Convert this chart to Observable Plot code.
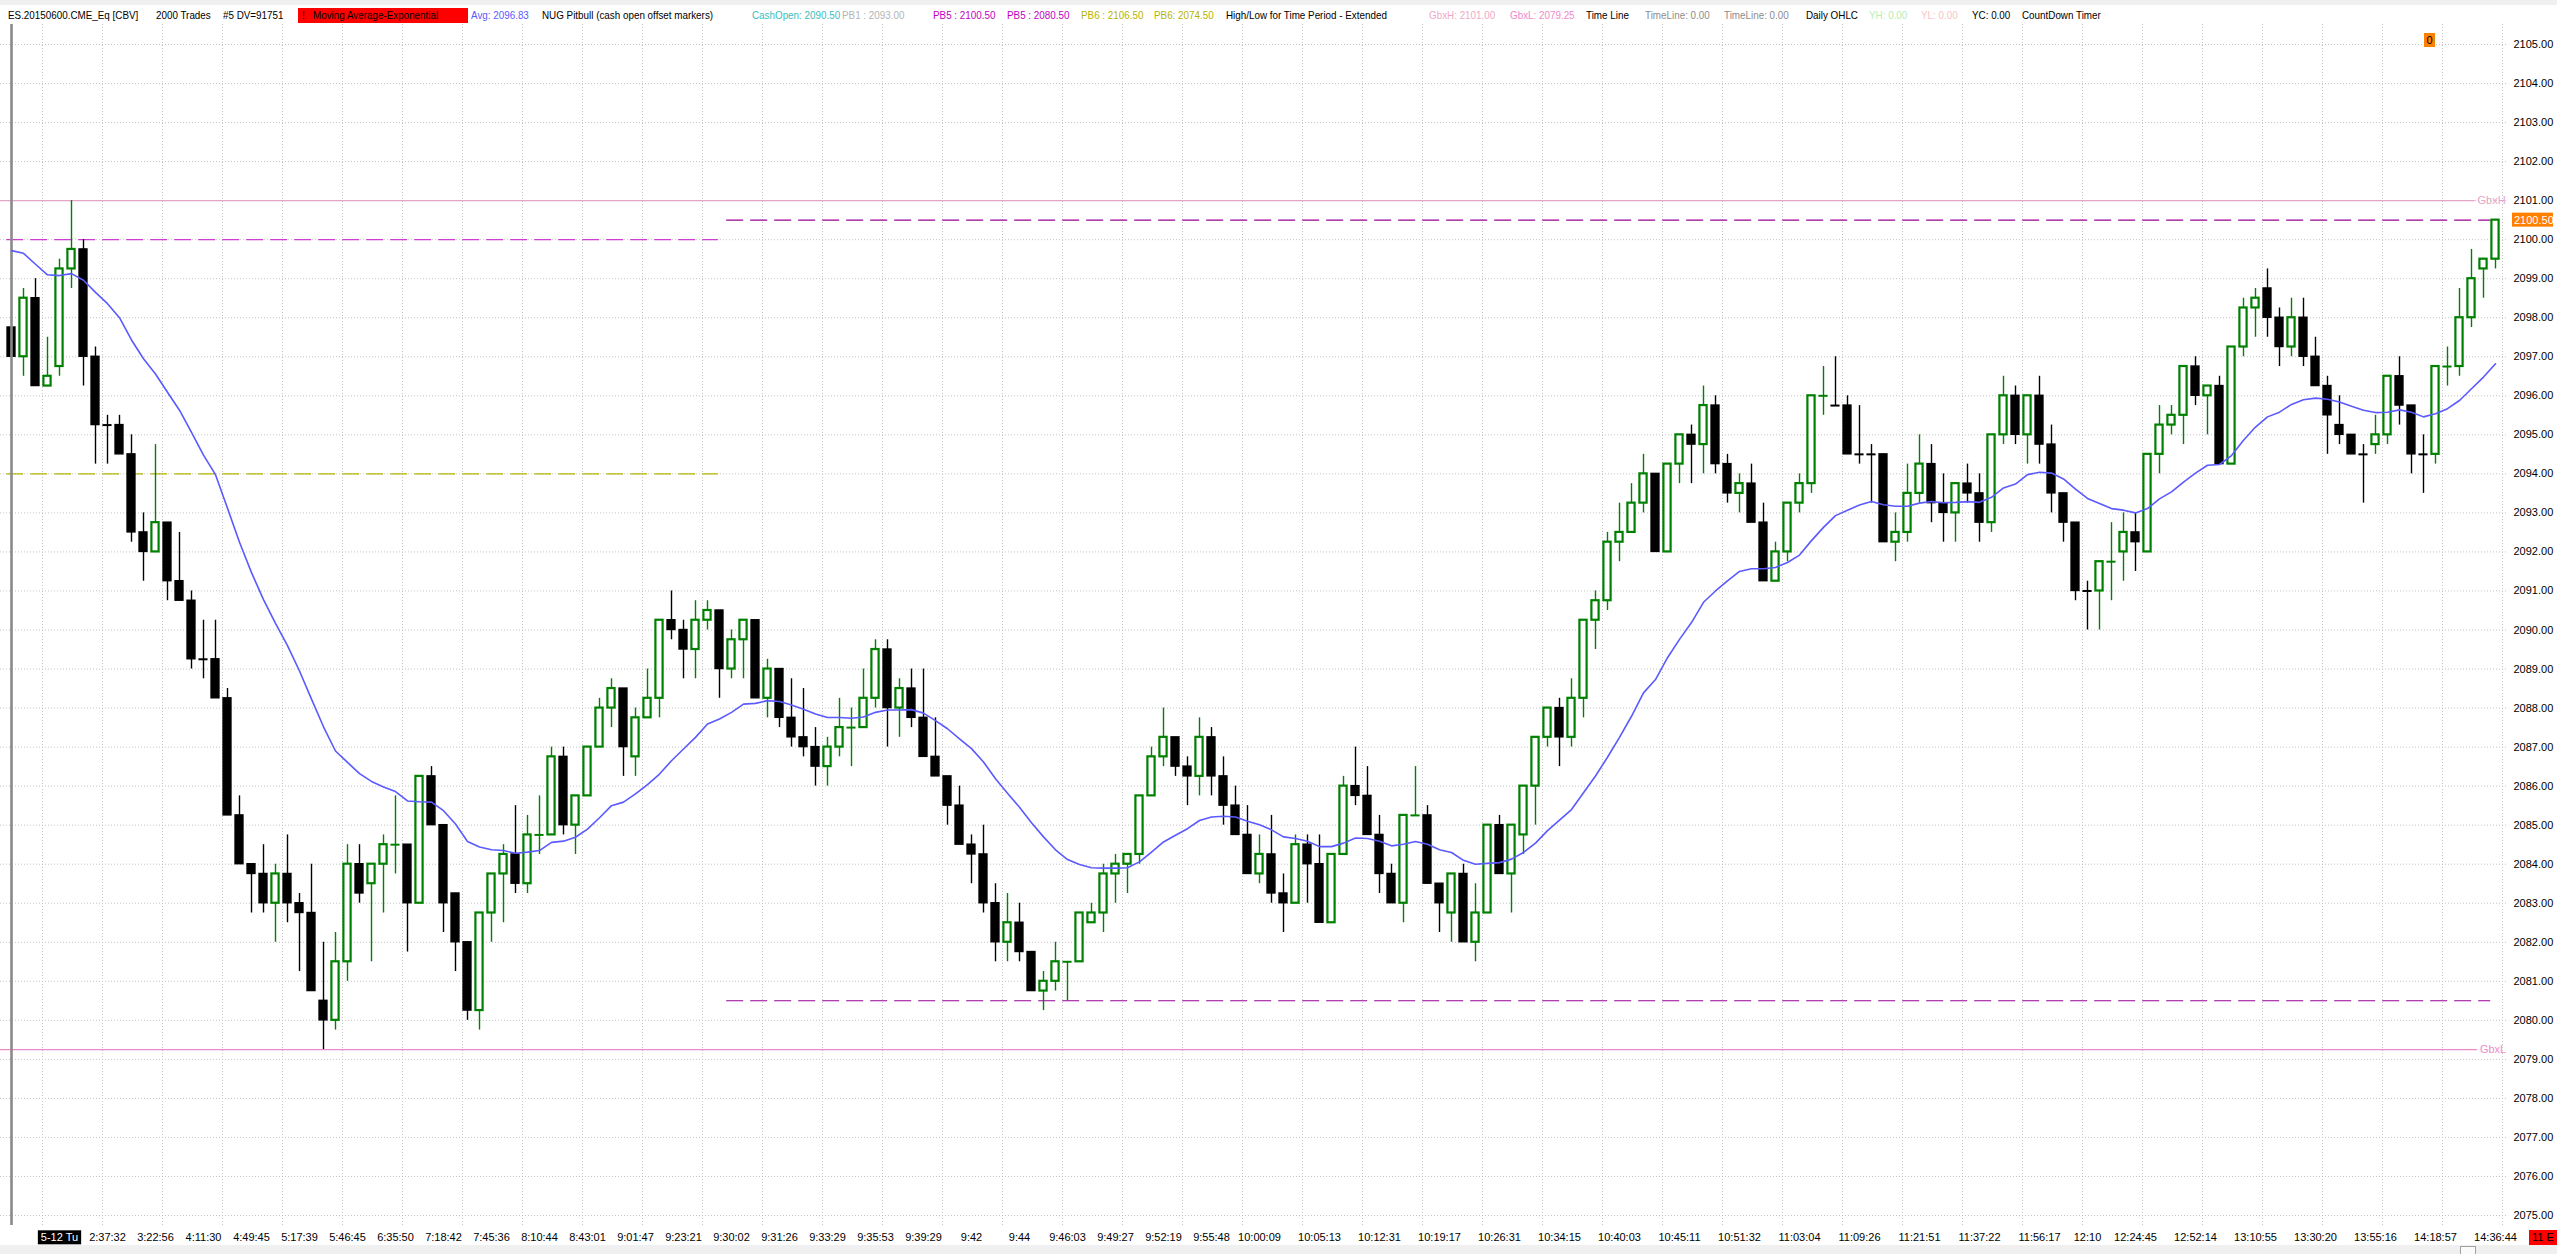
<!DOCTYPE html>
<html>
<head>
<meta charset="utf-8">
<script src="https://cdn.jsdelivr.net/npm/d3@7"></script>
<script src="https://cdn.jsdelivr.net/npm/@observablehq/plot@0.6"></script>
<style>
  body { margin: 0; background: #fff; font-family: "Liberation Sans", Arial, sans-serif; }
  #wrap { position: relative; width: 2557px; height: 1254px; overflow: hidden; background: #fff; }
  .h { position: absolute; top: 9px; font-size: 11px; line-height: 13px; white-space: nowrap;
       transform: scaleX(0.895); transform-origin: 0 0; }
  .box { position: absolute; font-size: 11px; line-height: 14px; white-space: nowrap; }
</style>
</head>
<body>
<div id="wrap">
  <div style="position:absolute;left:0;top:0;width:2557px;height:5px;background:#f0f0f0"></div>
  <div style="position:absolute;left:298px;top:8px;width:170px;height:15px;background:#ff0000"></div>
  <div id="header"></div>
  <div id="chart" style="position:absolute;left:0;top:24px"></div>
  <div class="box" style="left:2424px;top:33px;width:11px;height:14px;background:#ff8000;text-align:center">0</div>
  <div class="box" style="left:2529px;top:1230px;width:30px;height:15px;background:#ff0000;padding-left:3px">11 E</div>
  <div style="position:absolute;left:0;top:1245px;width:2557px;height:9px;background:#f0f0f0"></div>
  <div style="position:absolute;left:2460px;top:1246px;width:14px;height:8px;border:1px solid #a0a0a0;background:#fafafa"></div>
</div>
<script>
// ES 2000-trade bars, one value per bar (bar 0 .. 207)
const opens = [
  2097.75,2097,2098.5,2096.25,2096.75,2099.25,2099.75,2097,2095.25,2095.25,
  2094.5,2092.5,2092,2092.75,2091.25,2090.75,2089.25,2089.25,2088.25,2085.25,
  2084,2083.75,2083,2083.75,2083,2082.75,2080.5,2080,2081.5,2084,
  2083.5,2084,2084.5,2084.5,2083,2086.25,2085,2083.25,2082,2080.25,
  2082.75,2083.75,2084.25,2083.5,2084.75,2084.75,2086.75,2085,2085.75,2087,
  2088,2088.5,2086.75,2087.75,2088.25,2090.25,2090,2089.5,2090.25,2090.5,
  2089,2089.75,2090.25,2088.25,2089,2087.75,2087.25,2087,2086.5,2087,
  2087.5,2087.5,2088.25,2089.5,2088,2088.5,2087.75,2086.75,2086.25,2085.5,
  2084.5,2084.25,2083,2082,2082.5,2081.75,2080.75,2081,2081.5,2081.5,
  2082.5,2082.75,2083.75,2084,2084.25,2085.75,2086.75,2087.25,2086.5,2086.25,
  2087.25,2086.25,2085.5,2084.75,2083.75,2084.25,2083.25,2083,2084.5,2084,
  2082.5,2084.25,2086,2085.75,2084.75,2083.75,2083,2085.25,2085.25,2083.5,
  2082.75,2083.75,2082,2082.75,2085,2083.75,2084.75,2086,2087.25,2088,
  2087.25,2088.25,2090.25,2090.75,2092.25,2092.5,2093.25,2094,2092,2094.25,
  2095,2094.75,2095.75,2094.25,2093.5,2093.75,2092.75,2091.25,2092,2093.25,
  2093.75,2096,2095.75,2095.75,2094.5,2094.5,2094.5,2092.25,2092.5,2093.5,
  2094.25,2093.25,2093,2093.75,2093.5,2092.75,2095,2096,2095,2096,
  2094.75,2093.5,2092.75,2091,2091,2091.75,2092,2092.5,2092,2094.5,
  2095.25,2095.5,2096.75,2096,2096.25,2094.25,2097.25,2098.25,2098.75,2098,
  2097.25,2098,2097,2096.25,2095.25,2095,2094.5,2094.75,2095,2096.5,
  2095.75,2094.5,2094.5,2096.75,2096.75,2098,2099.25,2099.5
];
const highs = [
  2097.75,2098.75,2099,2097.5,2099.5,2101,2100,2097.25,2095.5,2095.5,
  2095,2093,2094.75,2092.75,2092.5,2091,2090.25,2090.25,2088.5,2085.75,
  2084,2084.5,2084,2084.75,2083.25,2084,2082,2082.25,2084.5,2084.5,
  2084,2084.75,2085.75,2084.5,2086.25,2086.5,2085,2083.25,2082,2082.75,
  2083.75,2084.5,2085.5,2085.25,2085.75,2087,2087,2085.75,2087,2088.25,
  2088.75,2088.5,2088,2089,2090.25,2091,2090.25,2090.75,2090.75,2090.5,
  2090,2090.25,2090.25,2089.25,2089,2088.75,2088.5,2087.5,2087.25,2088.25,
  2088,2089,2089.75,2089.75,2088.75,2089,2089,2087.75,2086.25,2086,
  2084.75,2085,2083.5,2083.25,2083,2081.75,2081.25,2082,2081.5,2082.75,
  2083,2084,2084.25,2084.25,2085.75,2087,2088,2087.25,2086.75,2087.75,
  2087.5,2086.75,2086,2085.5,2084.75,2085.25,2083.75,2084.75,2084.75,2084.75,
  2084.25,2086.25,2087,2086.5,2085.25,2084,2085.25,2086.5,2085.5,2083.5,
  2083.75,2084,2083.5,2085,2085.25,2085,2086,2087.25,2088,2088.25,
  2088.75,2090.25,2091,2092.5,2093.25,2093.75,2094.5,2094,2094.25,2095,
  2095.25,2096.25,2096,2094.5,2094,2094.25,2093.25,2092.25,2093.25,2094,
  2096,2096.75,2097,2096,2095.75,2094.75,2094.5,2093,2094.25,2095,
  2094.75,2094,2093.75,2094.25,2094,2095,2096.5,2096.25,2096,2096.5,
  2095.25,2093.5,2092.75,2091.25,2091.75,2092.75,2093,2093,2094.5,2095.75,
  2095.75,2096.75,2097,2096.25,2096.5,2097.25,2098.5,2098.75,2099.25,2098.25,
  2098.5,2098.5,2097.5,2096.5,2096,2095,2094.75,2095.5,2096.5,2097,
  2095.75,2095,2096.75,2097.25,2098.75,2099.75,2099.5,2100.5
];
const lows = [
  2097,2096.5,2096.25,2096.25,2096.5,2098.75,2096.25,2094.25,2094.25,2094.5,
  2092.25,2091.25,2092,2090.75,2090.75,2089,2088.75,2088.25,2085.25,2084,
  2082.75,2082.75,2082,2082.5,2081.25,2080.75,2079.25,2079.75,2081,2083,
  2081.5,2082.75,2083.75,2081.75,2083,2085,2082.25,2081.25,2080,2079.75,
  2082,2082.5,2083.25,2083.25,2084.25,2084.75,2084.75,2084.25,2085.75,2087,
  2087.5,2086.25,2086.25,2087.75,2087.75,2089.75,2088.75,2088.75,2090,2088.25,
  2088.75,2088.75,2088.25,2087.75,2087.5,2087,2086.75,2086,2086,2086.75,
  2086.5,2087.5,2088,2087,2087.25,2087.5,2086.75,2086.25,2085,2084.5,
  2083.5,2082.75,2081.5,2081.5,2081.5,2080.75,2080.25,2080.75,2080.5,2081.5,
  2082.5,2082.25,2083,2083.25,2084,2085.75,2086.5,2086.25,2085.5,2085.75,
  2085.75,2085,2084.75,2083.75,2083.5,2083,2082.25,2083,2083,2082.5,
  2082.5,2084.25,2085.5,2084.75,2083.25,2083,2082.5,2085.25,2083.5,2082.25,
  2082,2082,2081.5,2082.75,2083.75,2082.75,2084.25,2085,2087,2086.5,
  2087,2087.75,2089.5,2090.5,2091.75,2092.5,2093,2092,2092,2093.75,
  2093.75,2094,2094,2093.25,2093,2092.75,2091.25,2091.25,2091.75,2093,
  2093.5,2095.5,2095.75,2094.5,2094.25,2093.25,2092.25,2091.75,2092.25,2093.25,
  2092.75,2092.25,2092.25,2093.25,2092.25,2092.5,2094.75,2094.75,2094.25,2094.25,
  2093,2092.25,2090.75,2090,2090,2090.75,2091.25,2091.5,2092,2094,
  2095,2094.75,2095.75,2095,2094.25,2094.25,2097,2097.5,2097.5,2096.75,
  2097,2096.75,2096.25,2094.5,2094.75,2094.5,2093.25,2094.5,2094.75,2095.25,
  2094,2093.5,2094.25,2096.25,2096.5,2097.75,2098.5,2099.25
];
const closes = [
  2097,2098.5,2096.25,2096.5,2099.25,2099.75,2097,2095.25,2095.25,2094.5,
  2092.5,2092,2092.75,2091.25,2090.75,2089.25,2089.25,2088.25,2085.25,2084,
  2083.75,2083,2083.75,2083,2082.75,2080.75,2080,2081.5,2084,2083.25,
  2084,2084.5,2084.5,2083,2086.25,2085,2083,2082,2080.25,2082.75,
  2083.75,2084.25,2083.5,2084.75,2084.75,2086.75,2085,2085.75,2087,2088,
  2088.5,2087,2087.75,2088.25,2090.25,2090,2089.5,2090.25,2090.5,2089,
  2089.75,2090.25,2088.25,2089,2087.75,2087.25,2087,2086.5,2087,2087.5,
  2087.5,2088.25,2089.5,2088,2088.5,2087.75,2086.75,2086.25,2085.5,2084.5,
  2084.25,2083,2082,2082.5,2081.75,2080.75,2081,2081.5,2081.5,2082.75,
  2082.75,2083.75,2084,2084.25,2085.75,2086.75,2087.25,2086.5,2086.25,2087.25,
  2086.25,2085.5,2084.75,2083.75,2084.25,2083.25,2083,2084.5,2084,2082.5,
  2084.25,2086,2085.75,2084.75,2083.75,2083,2085.25,2085.25,2083.5,2083,
  2083.75,2082,2082.75,2085,2083.75,2085,2086,2087.25,2088,2087.25,
  2088.25,2090.25,2090.75,2092.25,2092.5,2093.25,2094,2092,2094.25,2095,
  2094.75,2095.75,2094.25,2093.5,2093.75,2092.75,2091.25,2092,2093.25,2093.75,
  2096,2096,2095.75,2094.5,2094.5,2094.5,2092.25,2092.5,2093.5,2094.25,
  2093.25,2093,2093.75,2093.5,2092.75,2095,2096,2095,2096,2094.75,
  2093.5,2092.75,2091,2091,2091.75,2091.75,2092.5,2092.25,2094.5,2095.25,
  2095.5,2096.75,2096,2096.25,2094.25,2097.25,2098.25,2098.5,2098,2097.25,
  2098,2097,2096.25,2095.5,2095,2094.5,2094.5,2095,2096.5,2095.75,
  2094.5,2094.5,2096.75,2096.75,2098,2099,2099.5,2100.5
];
// bars where open == close but the tick is drawn green
const greenDojiBars = [32, 44, 70, 88, 117, 151, 175, 203];

// exponential moving average
const emaValues = [
  2099.72,2099.65,2099.37,2099.10,2099.08,2099.13,2098.96,2098.65,2098.36,2098.00,
  2097.43,2096.95,2096.56,2096.09,2095.63,2095.06,2094.48,2093.98,2093.12,2092.25,
  2091.47,2090.78,2090.17,2089.60,2088.95,2088.23,2087.52,2086.90,2086.61,2086.32,
  2086.12,2085.98,2085.86,2085.62,2085.60,2085.59,2085.37,2085.03,2084.58,2084.44,
  2084.37,2084.35,2084.28,2084.31,2084.35,2084.56,2084.59,2084.69,2084.90,2085.19,
  2085.50,2085.59,2085.80,2086.04,2086.31,2086.65,2086.95,2087.25,2087.59,2087.72,
  2087.89,2088.10,2088.12,2088.19,2088.17,2088.08,2087.97,2087.85,2087.76,2087.76,
  2087.74,2087.77,2087.89,2087.95,2087.95,2087.96,2087.87,2087.68,2087.47,2087.21,
  2086.96,2086.62,2086.19,2085.82,2085.46,2085.06,2084.70,2084.37,2084.12,2083.99,
  2083.91,2083.90,2083.90,2083.91,2084.06,2084.31,2084.57,2084.74,2084.91,2085.12,
  2085.21,2085.23,2085.21,2085.10,2085.01,2084.88,2084.70,2084.66,2084.59,2084.45,
  2084.45,2084.54,2084.67,2084.66,2084.59,2084.47,2084.51,2084.58,2084.51,2084.37,
  2084.30,2084.10,2084.00,2084.02,2084.04,2084.13,2084.30,2084.54,2084.86,2085.13,
  2085.40,2085.83,2086.26,2086.74,2087.25,2087.79,2088.39,2088.73,2089.29,2089.76,
  2090.19,2090.71,2091.00,2091.26,2091.50,2091.57,2091.57,2091.60,2091.73,2091.92,
  2092.29,2092.63,2092.93,2093.07,2093.20,2093.29,2093.21,2093.17,2093.17,2093.25,
  2093.29,2093.26,2093.27,2093.29,2093.27,2093.40,2093.64,2093.74,2093.98,2094.04,
  2094.02,2093.87,2093.61,2093.37,2093.24,2093.11,2093.07,2093.00,2093.11,2093.36,
  2093.54,2093.79,2094.02,2094.22,2094.24,2094.47,2094.86,2095.20,2095.46,2095.58,
  2095.78,2095.90,2095.94,2095.91,2095.84,2095.73,2095.63,2095.57,2095.58,2095.64,
  2095.58,2095.46,2095.54,2095.67,2095.88,2096.18,2096.48,2096.82
];

// time axis labels and the bar each one sits under
const timeLabels = [
  "5-12 Tu","2:37:32","3:22:56","4:11:30","4:49:45","5:17:39","5:46:45","6:35:50","7:18:42","7:45:36",
  "8:10:44","8:43:01","9:01:47","9:23:21","9:30:02","9:31:26","9:33:29","9:35:53","9:39:29","9:42",
  "9:44","9:46:03","9:49:27","9:52:19","9:55:48","10:00:09","10:05:13","10:12:31","10:19:17","10:26:31",
  "10:34:15","10:40:03","10:45:11","10:51:32","11:03:04","11:09:26","11:21:51","11:37:22","11:56:17","12:10",
  "12:24:45","12:52:14","13:10:55","13:30:20","13:55:16","14:18:57","14:36:44"
];
const timeLabelBars = [
  4,8,12,16,20,24,28,32,36,40,44,48,52,56,60,64,68,72,76,80,84,88,92,96,100,104,
  109,114,119,124,129,134,139,144,149,154,159,164,169,173,177,182,187,192,197,202,207
];
const priceTicks = d3.range(2075, 2106);

// indicator levels
const gbxNames = ["GbxH", "GbxL"];
const gbxLevels = [2101.00, 2079.25];
const pb5Levels = [2100.50, 2080.50];
const priorLevels = [2100.00, 2094.00];
const lastPrice = 2100.50;

const headerItems = [
  {t: "ES.20150600.CME_Eq [CBV]", x: 8, c: "#000"},
  {t: "2000 Trades", x: 156, c: "#000"},
  {t: "#5 DV=91751", x: 223, c: "#000"},
  {t: "!", x: 302, c: "#000"},
  {t: "Moving Average-Exponential", x: 313, c: "#000"},
  {t: "Avg: 2096.83", x: 471, c: "#5a5aff"},
  {t: "NUG Pitbull (cash open offset markers)", x: 542, c: "#000"},
  {t: "CashOpen: 2090.50", x: 752, c: "#3cbcbc"},
  {t: "PB1 : 2093.00", x: 842, c: "#b4b4b4"},
  {t: "PB5 : 2100.50", x: 933, c: "#c000c0"},
  {t: "PB5 : 2080.50", x: 1007, c: "#c000c0"},
  {t: "PB6 : 2106.50", x: 1081, c: "#b4b400"},
  {t: "PB6: 2074.50", x: 1154, c: "#b4b400"},
  {t: "High/Low for Time Period - Extended", x: 1226, c: "#000"},
  {t: "GbxH: 2101.00", x: 1429, c: "#f0a8c8"},
  {t: "GbxL: 2079.25", x: 1510, c: "#f088c8"},
  {t: "Time Line", x: 1586, c: "#000"},
  {t: "TimeLine: 0.00", x: 1645, c: "#8c8c8c"},
  {t: "TimeLine: 0.00", x: 1724, c: "#8c8c8c"},
  {t: "Daily OHLC", x: 1806, c: "#000"},
  {t: "YH: 0.00", x: 1869, c: "#b8ecb8"},
  {t: "YL: 0.00", x: 1921, c: "#f8c4c4"},
  {t: "YC: 0.00", x: 1972, c: "#000"},
  {t: "CountDown Timer", x: 2022, c: "#000"}
];

const header = d3.select("#header");
headerItems.forEach(d => {
  header.append("div").attr("class", "h")
    .style("left", d.x + "px").style("color", d.c).text(d.t);
});

const green = "#008000";
const bars = opens.map((o, i) => ({
  i, o, h: highs[i], l: lows[i], c: closes[i],
  up: closes[i] > o || (closes[i] === o && greenDojiBars.includes(i))
}));
const upBars = bars.filter(d => d.up);
const downBars = bars.filter(d => !d.up);
const ema = emaValues.map((v, i) => ({i, v}));
const labelByBar = new Map(timeLabelBars.map((b, k) => [b, timeLabels[k]]));

const chart = Plot.plot({
  width: 2557,
  height: 1221,
  marginTop: 0,
  marginLeft: 0,
  marginRight: 50,
  marginBottom: 20,
  style: {fontSize: "11px", fontFamily: "'Liberation Sans', Arial, sans-serif", background: "#fff", color: "#000"},
  x: {type: "linear", domain: [0, 207], range: [11, 2495]},
  y: {domain: [2075, 2105], range: [1191, 20]},
  marks: [
    Plot.gridY(priceTicks, {stroke: "#c4c4c4", strokeOpacity: 1, strokeDasharray: "1,2"}),
    Plot.gridX(d3.range(2.583, 208, 5), {stroke: "#c4c4c4", strokeOpacity: 1, strokeDasharray: "1,2"}),
    // prior period levels, left part
    Plot.ruleY([priorLevels[0]], {x1: () => -0.4, x2: () => 58.9, stroke: "#d03cd0", strokeWidth: 1.4, strokeDasharray: "17,7"}),
    Plot.ruleY([priorLevels[1]], {x1: () => -0.4, x2: () => 58.9, stroke: "#b4b400", strokeWidth: 1.4, strokeDasharray: "17,7"}),
    // PB5 levels, right part
    Plot.ruleY(pb5Levels, {x1: () => 59.6, x2: () => 206.6, stroke: "#960096", strokeWidth: 1.1, strokeDasharray: "17,7"}),
    // Gbx high / low
    Plot.ruleY([gbxLevels[0]], {x1: () => -1, x2: () => 205.3, stroke: "#e6a4c6", strokeWidth: 1.4}),
    Plot.ruleY([gbxLevels[1]], {x1: () => -1, x2: () => 205.5, stroke: "#f088cc", strokeWidth: 1.4}),
    Plot.text([gbxLevels[0]], {x: () => 205.5, y: d => d, text: () => gbxNames[0], textAnchor: "start", fill: "#e6a4c6", fontSize: 11}),
    Plot.text([gbxLevels[1]], {x: () => 205.7, y: d => d, text: () => gbxNames[1], textAnchor: "start", fill: "#f088cc", fontSize: 11}),
    // wicks
    Plot.ruleX(downBars, {x: "i", y1: "l", y2: "h", stroke: "#000", strokeWidth: 1.4}),
    Plot.ruleX(upBars, {x: "i", y1: "l", y2: "h", stroke: green, strokeWidth: 1.4}),
    // bodies
    Plot.rect(downBars.filter(d => d.o !== d.c), {
      x1: d => d.i - 0.33, x2: d => d.i + 0.33, y1: "o", y2: "c",
      fill: "#000", stroke: "#000", strokeWidth: 1.4
    }),
    Plot.rect(upBars.filter(d => d.o !== d.c), {
      x1: d => d.i - 0.3, x2: d => d.i + 0.3, y1: "o", y2: "c",
      fill: "#fff", stroke: green, strokeWidth: 2.2
    }),
    Plot.ruleY(downBars.filter(d => d.o === d.c), {y: "o", x1: d => d.i - 0.38, x2: d => d.i + 0.38, stroke: "#000", strokeWidth: 2}),
    Plot.ruleY(upBars.filter(d => d.o === d.c), {y: "o", x1: d => d.i - 0.38, x2: d => d.i + 0.38, stroke: green, strokeWidth: 2}),
    // session break
    Plot.ruleX([0], {stroke: "#8a8a8a", strokeWidth: 2.6}),
    // EMA
    Plot.line(ema, {x: "i", y: "v", stroke: "#5a5aff", strokeWidth: 1.6}),
    Plot.axisY({anchor: "right", ticks: priceTicks, tickFormat: d => d.toFixed(2), tickSize: 0, tickPadding: 6, label: null}),
    Plot.axisX({ticks: timeLabelBars, tickFormat: d => labelByBar.get(d), tickSize: 0, tickPadding: 8, label: null})
  ]
});

d3.select("#chart").append(() => chart);

// black box behind the date label
const svg = d3.select(chart);
svg.selectAll("text").filter(function() { return this.textContent === timeLabels[0]; }).each(function() {
  const node = this;
  const b = node.getBBox();
  d3.select(node.parentNode).insert("rect", () => node)
    .attr("transform", node.getAttribute("transform"))
    .attr("x", b.x - 3).attr("y", b.y - 1)
    .attr("width", b.width + 6).attr("height", b.height + 2)
    .attr("fill", "#000");
  d3.select(node).attr("fill", "#fff");
});

// last price marker on the price axis
const yLast = chart.scale("y").apply(lastPrice);
svg.append("rect").attr("x", 2512).attr("y", yLast - 7).attr("width", 41).attr("height", 14).attr("fill", "#ff8000");
svg.append("text").attr("x", 2514).attr("y", yLast).attr("dy", "0.35em")
  .attr("text-anchor", "start").attr("fill", "#fff").attr("font-size", 11)
  .text(lastPrice.toFixed(2));
</script>
</body>
</html>
